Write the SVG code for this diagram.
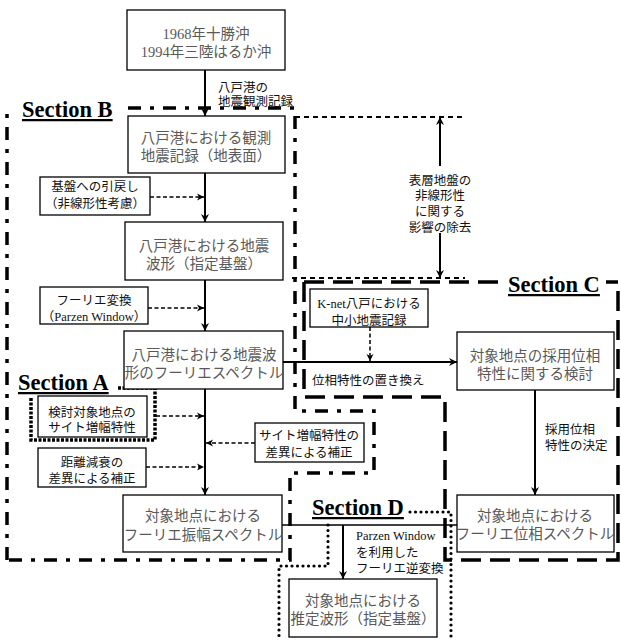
<svg xmlns="http://www.w3.org/2000/svg" width="621" height="641" viewBox="0 0 621 641">
<defs>
<marker id="ah" markerWidth="10" markerHeight="10" refX="9" refY="5" orient="auto" markerUnits="userSpaceOnUse"><path d="M1,1 L9,5 L1,9 L3.5,5 z" fill="#000"/></marker>
<marker id="ahd" markerWidth="9" markerHeight="9" refX="8" refY="4.5" orient="auto" markerUnits="userSpaceOnUse"><path d="M1,1 L8,4.5 L1,8 L3,4.5 z" fill="#000"/></marker>
</defs>
<style>
.box{fill:#fff;stroke:#000;stroke-width:1.3}
.bt{font-family:"Liberation Serif","Noto Sans CJK JP",serif;font-size:14.5px;fill:#595959;text-anchor:middle}
.lt{font-family:"Liberation Serif","Noto Sans CJK JP",sans-serif;font-size:12.5px;fill:#111}
.c{text-anchor:middle}
.sec{font-family:"Liberation Serif",serif;font-weight:bold;font-size:22.5px;text-decoration:underline;fill:#000}
.solid{stroke:#000;stroke-width:2;fill:none}
.thin{stroke:#000;stroke-width:1.3;fill:none}
.dash{stroke:#000;stroke-width:1.5;stroke-dasharray:4 2.5;fill:none}
.frB{stroke:#000;stroke-width:3.5;stroke-dasharray:13 9 4 9;fill:none}
.frC{stroke:#000;stroke-width:3.5;stroke-dasharray:20 9;fill:none}
.frS{stroke:#000;stroke-width:2;stroke-dasharray:5 4;fill:none}
.frA{stroke:#000;stroke-width:3.5;stroke-dasharray:3 1.5;fill:none}
.frD{stroke:#000;stroke-width:3.2;stroke-dasharray:0 5.5;stroke-linecap:round;fill:none}
</style>
<rect width="621" height="641" fill="#fff"/>

<g id="frames">
<path class="frB" d="M7,560 L7,112 M128,108 L295,108 L295,411 L374,411 L374,473 L290,473 L290,560 L7,560"/>
<path class="frS" d="M295,117 L465,117 M292,278 L465,278"/>
<path class="frC" d="M304,282 L304,397 L445,397 L445,560 L618,560 L618,282 L606,282 M304,282 L505,282"/>
<path class="frA" d="M118,388 L155,388 L155,440 L31,440 L31,397"/>
<path class="frD" d="M410,512 L451,512 L451,641 M328,525 L328,566 L279,566 L279,641"/>
</g>

<g id="labels-sections">
<text class="sec" x="22" y="117">Section B</text>
<text class="sec" x="508" y="292">Section C</text>
<text class="sec" x="18" y="390">Section A</text>
<text class="sec" x="312" y="515">Section D</text>
</g>

<g id="connectors">
<line class="solid" x1="205" y1="70" x2="205" y2="116" marker-end="url(#ah)"/>
<line class="solid" x1="205" y1="173" x2="205" y2="222" marker-end="url(#ah)"/>
<line class="solid" x1="205" y1="280" x2="205" y2="331" marker-end="url(#ah)"/>
<line class="solid" x1="205" y1="389" x2="205" y2="495" marker-end="url(#ah)"/>
<line class="solid" x1="283" y1="362" x2="457" y2="362" marker-end="url(#ah)"/>
<line class="solid" x1="535" y1="390" x2="535" y2="495" marker-end="url(#ah)"/>
<line class="thin" x1="282" y1="525" x2="457" y2="525"/>
<line class="solid" x1="343" y1="525" x2="343" y2="579" marker-end="url(#ah)"/>
<line class="solid" x1="440" y1="166" x2="440" y2="117" marker-end="url(#ah)"/>
<line class="solid" x1="440" y1="233" x2="440" y2="278" marker-end="url(#ah)"/>
<line class="dash" x1="150" y1="197" x2="204" y2="197" marker-end="url(#ahd)"/>
<line class="dash" x1="148" y1="308" x2="204" y2="308" marker-end="url(#ahd)"/>
<line class="dash" x1="370" y1="327" x2="370" y2="361" marker-end="url(#ahd)"/>
<line class="dash" x1="156" y1="416" x2="204" y2="416" marker-end="url(#ahd)"/>
<line class="dash" x1="146" y1="467" x2="204" y2="467" marker-end="url(#ahd)"/>
<line class="dash" x1="255" y1="443" x2="206" y2="443" marker-end="url(#ahd)"/>
</g>

<g id="n-src">
<rect class="box" x="127" y="10" width="158" height="60"/>
<text class="bt" x="206" y="38.5">1968年十勝沖</text>
<text class="bt" x="206" y="56.5">1994年三陸はるか沖</text>
</g>
<g id="lbl-record">
<text class="lt" x="218" y="91.5">八戸港の</text>
<text class="lt" x="218" y="105.5">地震観測記録</text>
</g>
<g id="n-obs">
<rect class="box" x="128" y="116" width="157" height="57"/>
<text class="bt" x="206" y="142.5">八戸港における観測</text>
<text class="bt" x="206" y="161">地震記録（地表面）</text>
</g>
<g id="n-base">
<rect class="box" x="40" y="177" width="110" height="38"/>
<text class="lt c" x="95" y="191">基盤への引戻し</text>
<text class="lt c" x="95" y="208">（非線形性考慮）</text>
</g>
<g id="n-wave">
<rect class="box" x="125" y="222" width="158" height="58"/>
<text class="bt" x="204" y="250.5">八戸港における地震</text>
<text class="bt" x="204" y="268.5">波形（指定基盤）</text>
</g>
<g id="n-fft">
<rect class="box" x="40" y="287" width="108" height="37"/>
<text class="lt c" x="94" y="304.5">フーリエ変換</text>
<text class="lt c" x="94" y="321">（Parzen Window）</text>
</g>
<g id="n-spec">
<rect class="box" x="124" y="331" width="159" height="58"/>
<text class="bt" x="204" y="359.5">八戸港における地震波</text>
<text class="bt" x="204" y="377.5">形のフーリエスペクトル</text>
</g>
<g id="n-knet">
<rect class="box" x="310" y="289" width="118" height="38"/>
<text class="lt c" x="369" y="307.5">K-net八戸における</text>
<text class="lt c" x="369" y="324.5">中小地震記録</text>
</g>
<g id="lbl-phase">
<text class="lt" x="312" y="384.5">位相特性の置き換え</text>
</g>
<g id="lbl-surface">
<text class="lt c" x="440" y="184.5">表層地盤の</text>
<text class="lt c" x="440" y="199.5">非線形性</text>
<text class="lt c" x="440" y="215.5">に関する</text>
<text class="lt c" x="440" y="231.5">影響の除去</text>
</g>
<g id="n-phasestudy">
<rect class="box" x="457" y="332" width="157" height="58"/>
<text class="bt" x="535" y="360.5">対象地点の採用位相</text>
<text class="bt" x="535" y="378.5">特性に関する検討</text>
</g>
<g id="lbl-decide">
<text class="lt" x="545" y="433.5">採用位相</text>
<text class="lt" x="545" y="449.5">特性の決定</text>
</g>
<g id="n-phasespec">
<rect class="box" x="457" y="495" width="157" height="57"/>
<text class="bt" x="535" y="520.5">対象地点における</text>
<text class="bt" x="535" y="538.5">フーリエ位相スペクトル</text>
</g>
<g id="n-site">
<rect class="box" x="38" y="396" width="109" height="41"/>
<text class="lt c" x="92" y="416.5">検討対象地点の</text>
<text class="lt c" x="92" y="431.5">サイト増幅特性</text>
</g>
<g id="n-dist">
<rect class="box" x="38" y="448" width="108" height="39"/>
<text class="lt c" x="92" y="466.5">距離減衰の</text>
<text class="lt c" x="92" y="483">差異による補正</text>
</g>
<g id="n-sitecorr">
<rect class="box" x="255" y="423" width="109" height="39"/>
<text class="lt c" x="309" y="439.5">サイト増幅特性の</text>
<text class="lt c" x="309" y="456.5">差異による補正</text>
</g>
<g id="n-ampspec">
<rect class="box" x="123" y="495" width="159" height="57"/>
<text class="bt" x="203" y="520.5">対象地点における</text>
<text class="bt" x="203" y="540">フーリエ振幅スペクトル</text>
</g>
<g id="lbl-inverse">
<text class="lt" x="356" y="540">Parzen Window</text>
<text class="lt" x="356" y="556.5">を利用した</text>
<text class="lt" x="356" y="572.5">フーリエ逆変換</text>
</g>
<g id="n-est">
<rect class="box" x="289" y="579" width="148" height="58"/>
<text class="bt" x="363" y="605.5">対象地点における</text>
<text class="bt" x="363" y="623.5">推定波形（指定基盤）</text>
</g>
</svg>
